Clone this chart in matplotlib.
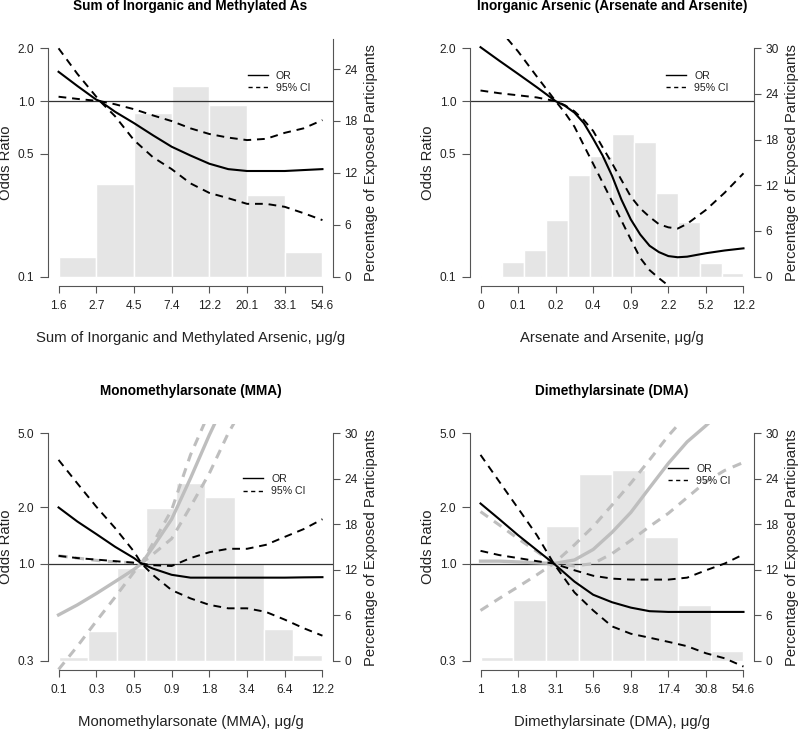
import matplotlib
matplotlib.use("Agg")
import matplotlib.pyplot as plt
from matplotlib.lines import Line2D
from matplotlib.ticker import NullLocator
import numpy as np

plt.rcParams['font.family'] = ['Liberation Sans', 'DejaVu Sans']

# x positions are ln(concentration in ug/g); tick labels show the concentration

# ---- panel 1: sum of inorganic and methylated As
p1_ticks = [0.5, 1.0, 1.5, 2.0, 2.5, 3.0, 3.5, 4.0]
p1_ticklabels = ['1.6', '2.7', '4.5', '7.4', '12.2', '20.1', '33.1', '54.6']
p1_edges = [0.5, 1.0, 1.5, 2.0, 2.5, 3.0, 3.5, 4.0]
p1_pct = [2.3, 10.7, 18.9, 22.1, 19.9, 9.4, 2.8]
p1_x = [0.5, 0.75, 1.0, 1.05, 1.25, 1.5, 1.75, 2.0, 2.25, 2.5, 2.75, 3.0, 3.25, 3.5, 3.75, 4.0]
p1_or = [1.47, 1.22, 1.02, 1.0, 0.87, 0.75, 0.64, 0.55, 0.49, 0.44, 0.41, 0.40, 0.40, 0.40, 0.405, 0.41]
p1_ci1 = [2.0, 1.43, 1.06, 1.0, 0.82, 0.60, 0.48, 0.41, 0.34, 0.30, 0.28, 0.26, 0.26, 0.25, 0.23, 0.21]
p1_ci2 = [1.06, 1.03, 1.005, 1.0, 0.96, 0.90, 0.83, 0.77, 0.70, 0.65, 0.62, 0.60, 0.61, 0.66, 0.70, 0.78]

# ---- panel 2: inorganic arsenic
p2_ticks = [-3.45, -2.6, -1.75, -0.9, -0.05, 0.8, 1.65, 2.5]
p2_ticklabels = ['0', '0.1', '0.2', '0.4', '0.9', '2.2', '5.2', '12.2']
p2_edges = [-3.45, -2.954, -2.458, -1.963, -1.467, -0.971, -0.475, 0.021, 0.517, 1.013, 1.508, 2.004, 2.5]
p2_pct = [0.1, 1.9, 3.5, 7.4, 13.3, 15.9, 18.7, 17.7, 11.0, 7.2, 1.75, 0.5]
p2_x = [-3.45, -3.025, -2.6, -2.175, -1.75, -1.5375, -1.325, -1.1125, -0.9, -0.6875, -0.475, -0.2625,
        -0.05, 0.1625, 0.375, 0.5875, 0.8, 1.0125, 1.225, 1.65, 2.075, 2.5]
p2_or = [2.03, 1.70, 1.43, 1.20, 1.0, 0.94, 0.86, 0.75, 0.61, 0.49, 0.376, 0.275,
         0.212, 0.174, 0.150, 0.138, 0.131, 0.129, 0.130, 0.136, 0.141, 0.145]
p2_ci1 = [3.4, 2.57, 1.92, 1.38, 1.0, 0.857, 0.716, 0.56, 0.439, 0.344, 0.269, 0.209,
          0.163, 0.128, 0.109, 0.098, 0.089, 0.082, 0.075, 0.064, 0.055, 0.047]
p2_ci2 = [1.15, 1.11, 1.08, 1.05, 1.0, 0.947, 0.875, 0.78, 0.676, 0.546, 0.443, 0.356,
          0.286, 0.245, 0.219, 0.199, 0.191, 0.188, 0.200, 0.240, 0.301, 0.388]

# ---- panel 3: MMA
p3_ticks = [-1.98, -1.34, -0.70, -0.06, 0.58, 1.22, 1.86, 2.50]
p3_ticklabels = ['0.1', '0.3', '0.5', '0.9', '1.8', '3.4', '6.4', '12.2']
p3_edges = [-1.98, -1.482, -0.984, -0.487, 0.011, 0.509, 1.007, 1.504, 2.002, 2.5]
p3_pct = [0.5, 3.9, 12.2, 20.2, 23.4, 21.6, 12.8, 4.2, 0.8]
p3_x = [-1.98, -1.66, -1.34, -1.02, -0.70, -0.572, -0.38, -0.06, 0.26, 0.58, 0.90, 1.22, 1.54, 1.86, 2.18, 2.50]
p3_or = [2.0, 1.68, 1.44, 1.23, 1.07, 1.0, 0.94, 0.87, 0.84, 0.84, 0.84, 0.84, 0.84, 0.84, 0.843, 0.845]
p3_ci1 = [3.6, 2.69, 2.02, 1.55, 1.16, 1.0, 0.87, 0.72, 0.65, 0.60, 0.575, 0.575, 0.55, 0.50, 0.45, 0.41]
p3_ci2 = [1.10, 1.07, 1.05, 1.03, 1.01, 1.0, 0.98, 0.97, 1.07, 1.15, 1.20, 1.20, 1.26, 1.39, 1.53, 1.73]
p3_gray_or = [0.53, 0.60, 0.69, 0.80, 0.93, 1.0, 1.22, 1.73, 2.87, 4.9, 8.0]
p3_gray_ci1 = [0.27, 0.36, 0.49, 0.66, 0.90, 1.0, 1.28, 1.94, 3.83, 6.5]
p3_gray_ci2 = [1.10, 1.07, 1.04, 1.02, 1.01, 1.0, 1.12, 1.36, 2.02, 3.05, 5.0, 7.5]

# ---- panel 4: DMA
p4_ticks = [0.0, 0.571, 1.143, 1.714, 2.286, 2.857, 3.429, 4.0]
p4_ticklabels = ['1', '1.8', '3.1', '5.6', '9.8', '17.4', '30.8', '54.6']
p4_edges = [0.0, 0.5, 1.0, 1.5, 2.0, 2.5, 3.0, 3.5, 4.0]
p4_pct = [0.5, 8.0, 17.8, 24.6, 25.2, 16.4, 7.4, 1.3]
p4_x = [0.0, 0.286, 0.571, 0.857, 1.114, 1.429, 1.714, 2.0, 2.286, 2.571, 2.857, 3.143, 3.429, 3.714, 4.0]
p4_or = [2.10, 1.73, 1.42, 1.18, 1.0, 0.80, 0.68, 0.62, 0.58, 0.555, 0.55, 0.55, 0.55, 0.55, 0.55]
p4_ci1 = [3.83, 2.75, 1.98, 1.42, 1.0, 0.70, 0.56, 0.46, 0.42, 0.40, 0.38, 0.36, 0.33, 0.31, 0.28]
p4_ci2 = [1.17, 1.11, 1.07, 1.03, 1.0, 0.92, 0.86, 0.83, 0.82, 0.82, 0.82, 0.84, 0.92, 1.0, 1.12]
p4_gray_or = [1.03, 1.03, 1.02, 1.01, 1.0, 1.045, 1.19, 1.47, 1.88, 2.55, 3.45, 4.5, 5.5, 6.8]
p4_gray_ci1 = [1.90, 1.61, 1.36, 1.16, 1.0, 1.26, 1.58, 2.06, 2.70, 3.60, 4.85, 6.3]
p4_gray_ci2 = [0.56, 0.65, 0.75, 0.87, 1.0, 0.97, 1.0, 1.13, 1.33, 1.58, 1.86, 2.26, 2.75, 3.16, 3.49]

or_ticks_top = [0.1, 0.5, 1.0, 2.0]
or_ticks_bottom = [0.3, 1.0, 2.0, 5.0]

AXIS_COL = '#555555'
TEXT_COL = '#222222'
BAR_COL = '#e5e5e5'
GRAY_COL = '#bebebe'
DASH = (0, (4, 3))
GRAY_DASH = (0, (3, 2.4))


def pad_range(lo, hi, frac=0.04):
    d = (hi - lo) * frac
    return lo - d, hi + d


fig = plt.figure(figsize=(8, 7.3), dpi=100)


def panel(rect, title, xlabel, ticks, ticklabels, edges, pct, pct_max, pct_ticks,
          or_ticks, x, or_, ci1, ci2, gray=None, leg_xy=(0.7, 0.826)):
    ax = fig.add_axes(rect)
    axh = ax.twinx()
    ax.set_zorder(axh.get_zorder() + 1)
    ax.patch.set_visible(False)

    # histogram on the right axis
    axh.bar(edges[:-1], pct, width=np.diff(edges), align='edge',
            color=BAR_COL, edgecolor='white', linewidth=1.0)
    axh.set_ylim(*pad_range(0, pct_max))
    axh.set_yticks(pct_ticks)
    axh.set_yticklabels([str(t) for t in pct_ticks])
    for s in ['top', 'left', 'bottom']:
        axh.spines[s].set_visible(False)
    top = pct_max if pct_ticks[-1] >= pct_max else axh.get_ylim()[1]
    axh.spines['right'].set_bounds(0, top)
    axh.spines['right'].set_color(AXIS_COL)
    axh.tick_params(axis='y', length=5, width=0.8, color=AXIS_COL,
                    labelsize=8.6, labelcolor=TEXT_COL, pad=3)

    # odds ratio curves on the left (log) axis
    ax.set_yscale('log')
    lo, hi = pad_range(np.log10(or_ticks[0]), np.log10(or_ticks[-1]))
    ax.set_ylim(10 ** lo, 10 ** hi)
    ax.set_xlim(*pad_range(ticks[0], ticks[-1]))
    ax.axhline(1.0, color='#333333', lw=0.9, zorder=1)

    if gray is not None:
        g_or, g_c1, g_c2 = gray
        ax.plot(x[:len(g_c1)], g_c1, color=GRAY_COL, lw=2.2, ls=GRAY_DASH, zorder=2)
        ax.plot(x[:len(g_c2)], g_c2, color=GRAY_COL, lw=2.2, ls=GRAY_DASH, zorder=2)
        ax.plot(x[:len(g_or)], g_or, color=GRAY_COL, lw=2.4, zorder=2)

    ax.plot(x, ci1, color='black', lw=1.4, ls=DASH, zorder=3)
    ax.plot(x, ci2, color='black', lw=1.4, ls=DASH, zorder=3)
    ax.plot(x, or_, color='black', lw=1.5, zorder=3)

    ax.set_yticks(or_ticks)
    ax.set_yticklabels(['%.1f' % t for t in or_ticks])
    ax.yaxis.set_minor_locator(NullLocator())
    ax.set_xticks(ticks)
    ax.set_xticklabels(ticklabels)
    for s in ['top', 'right']:
        ax.spines[s].set_visible(False)
    ax.spines['left'].set_bounds(or_ticks[0], or_ticks[-1])
    ax.spines['bottom'].set_bounds(ticks[0], ticks[-1])
    for s in ['left', 'bottom']:
        ax.spines[s].set_color(AXIS_COL)
    ax.tick_params(axis='x', length=5, width=0.8, color=AXIS_COL,
                   labelsize=8.6, labelcolor=TEXT_COL, pad=5)
    ax.tick_params(axis='y', length=5.5, width=0.8, color=AXIS_COL,
                   labelsize=8.6, labelcolor=TEXT_COL, pad=4.5)

    ax.text(0.5, 1.135, title, transform=ax.transAxes, ha='center', va='center',
            fontsize=9.8, fontweight='bold', color='black')
    ax.text(0.5, -0.211, xlabel, transform=ax.transAxes, ha='center', va='center',
            fontsize=10.7, color=TEXT_COL)
    ax.text(-0.147, 0.5, 'Odds Ratio', transform=ax.transAxes, ha='center', va='center',
            rotation=90, fontsize=10.7, color=TEXT_COL)
    ax.text(1.133, 0.5, 'Percentage of Exposed Participants', transform=ax.transAxes,
            ha='center', va='center', rotation=90, fontsize=10.7, color=TEXT_COL)

    handles = [Line2D([], [], color='black', lw=1.0),
               Line2D([], [], color='black', lw=1.0, ls=(0, (3, 2.5)))]
    ax.legend(handles, ['OR', '95% CI'], frameon=False, loc='center left',
              bbox_to_anchor=leg_xy, borderaxespad=0, borderpad=0,
              handlelength=1.9, handletextpad=0.8, labelspacing=0.2,
              fontsize=7.6, labelcolor=TEXT_COL)
    return ax


panel([0.06, 0.6085, 0.35625, 0.3378], 'Sum of Inorganic and Methylated As',
      'Sum of Inorganic and Methylated Arsenic, μg/g',
      p1_ticks, p1_ticklabels, p1_edges, p1_pct, 26.4, [0, 6, 12, 18, 24],
      or_ticks_top, p1_x, p1_or, p1_ci1, p1_ci2, leg_xy=(0.70, 0.826))

panel([0.5875, 0.6085, 0.355, 0.3378], 'Inorganic Arsenic (Arsenate and Arsenite)',
      'Arsenate and Arsenite, μg/g',
      p2_ticks, p2_ticklabels, p2_edges, p2_pct, 30, [0, 6, 12, 18, 24, 30],
      or_ticks_top, p2_x, p2_or, p2_ci1, p2_ci2, leg_xy=(0.69, 0.826))

panel([0.06, 0.0821, 0.35625, 0.3368], 'Monomethylarsonate (MMA)',
      'Monomethylarsonate (MMA), μg/g',
      p3_ticks, p3_ticklabels, p3_edges, p3_pct, 30, [0, 6, 12, 18, 24, 30],
      or_ticks_bottom, p3_x, p3_or, p3_ci1, p3_ci2,
      gray=(p3_gray_or, p3_gray_ci1, p3_gray_ci2), leg_xy=(0.684, 0.752))

panel([0.5875, 0.0821, 0.355, 0.3368], 'Dimethylarsinate (DMA)',
      'Dimethylarsinate (DMA), μg/g',
      p4_ticks, p4_ticklabels, p4_edges, p4_pct, 30, [0, 6, 12, 18, 24, 30],
      or_ticks_bottom, p4_x, p4_or, p4_ci1, p4_ci2,
      gray=(p4_gray_or, p4_gray_ci1, p4_gray_ci2), leg_xy=(0.697, 0.793))

fig.savefig('out.png', dpi=100)
